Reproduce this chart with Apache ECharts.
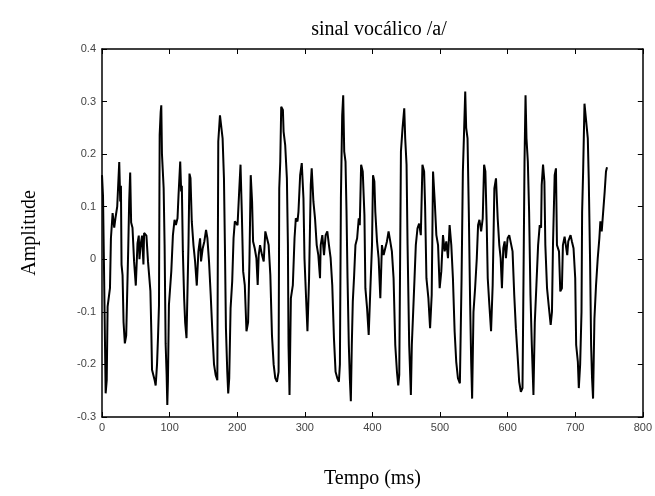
<!DOCTYPE html>
<html>
<head>
<meta charset="utf-8">
<script src="https://cdn.jsdelivr.net/npm/echarts@6/dist/echarts.min.js"></script>
<style>html,body{margin:0;padding:0;background:#fff}#c{width:655px;height:496px}</style>
</head>
<body>
<div id="c"></div>
<script>
var title = 'sinal vocálico /a/';
var xName = 'Tempo (ms)';
var yName = 'Amplitude';
var xTicks = [0, 100, 200, 300, 400, 500, 600, 700, 800];
var yTicks = [-0.3, -0.2, -0.1, 0, 0.1, 0.2, 0.3, 0.4];

// time (ms) of each sample
var timeMs = [
0,1.5,2.9,5.4,7,8.3,11.8,13.2,15.7,18.1,20.1,22.5,25.5,27,28,28.9,30.4,31.9,33.8,35.8,38.7,40.2,41.7,43.1,45.1,47.5,50,52.5,54.4,55.4,57.4,59.3,61.3,62.3,65.7,68.1,71.6,73,74,77.9,79.4,81.4,82.8,84.3,85.3,86.8,87.7,88.7,91.2,92.6,94.1,95.6,96.6,97.5,99,102.5,
104.9,107.3,109.3,111.7,113.2,115.7,117.1,118.1,119.6,121.5,123,125,126.4,127.9,129.4,130.9,132.8,135.3,137.7,140.2,142.6,145.1,146.5,149,151.4,153.9,155.9,158.3,160.8,163.2,165.7,168.1,170.6,172,174.5,176.9,178.4,180.4,181.8,183.3,185.3,186.7,188.2,190.2,192.6,194.6,196.5,199,200.5,202.9,204.9,206.8,208.8,211.2,
213.7,216.1,218.1,220,222,223.5,225.9,228.4,230.3,231.8,233.8,236.7,239.2,241.6,244.1,246.5,249,251.4,253.9,256.3,258.8,261.2,262.2,263.7,265.1,267.6,268.6,271,273.5,275,275.9,277.4,279.4,282.3,284.8,286.7,289.2,290.6,293.1,295.5,298,299.5,301.9,303.9,306.3,308.8,310.2,312.7,315.1,317.6,320,322.5,
323.5,325.9,328.4,330.8,333.3,335.7,338.2,340.6,343.1,345.5,348,350.4,351.9,353.4,355.3,356.8,358.3,360.2,361.7,363.2,365.1,366.6,368.1,369.5,371,373,374.9,377.4,379.8,381.3,383.3,385.7,388.2,389.6,392.1,394.5,397,399.4,400.9,402.9,404.3,406.8,409.2,411.7,414.1,416.6,419,421.5,423.9,426.4,428.8,431.3,
433.8,436.3,438.2,439.7,442.2,444.6,447.1,448.5,450.5,452,454.4,456.9,458.3,460.3,462.3,464.2,466.7,469.1,471.6,474,476.5,477.9,479.9,482.8,485.3,487.7,489.7,492.2,494.6,497.1,499.5,501.9,504.4,506.9,509.3,511.8,514.2,516.7,519.1,521.6,524,526.5,529.4,531.9,533.8,535.3,537.3,538.7,540.7,542.6,
544.6,546.1,547.5,549.5,551.9,554.4,556.3,558.3,560.8,563.2,565.2,567.1,569.1,570.6,573,575.5,577.9,580.4,582.8,585.3,587.7,589.7,591.6,593.6,595.6,597.5,600,602.4,604.9,607.3,609.8,612.2,614.7,617.1,619.6,622,623.5,625,626.5,627.9,629.9,631.8,633.8,635.8,638.2,640.2,642.6,645.1,647.5,
649.5,650.4,652.4,654.4,655.8,658.3,660.7,663.7,665.6,667.1,669.6,671.5,673,676,677.9,680.3,681.8,684.3,686.7,688.2,689.7,691.6,693.1,695.1,697.5,700,701.4,703.9,705.3,707.3,709.3,710.2,711.7,713.7,716.1,718.6,720,722,723.5,724.9,726.4,728.4,730.8,733.3,735.7,737.2,739.2,741.6,743.6,745.5,747
];
// amplitude of each sample
var amplitude = [
0.16,0.12,-0.01,-0.255,-0.23,-0.09,-0.055,0.04,0.088,0.06,0.08,0.1,0.185,0.11,0.14,-0.01,-0.03,-0.12,-0.16,-0.145,0.015,0.11,0.165,0.07,0.06,-0.005,-0.05,0.03,0.045,0,0.03,0.045,-0.01,0.05,0.045,-0.005,-0.06,-0.14,-0.21,-0.23,-0.24,-0.2,-0.15,-0.087,0.237,0.28,0.293,0.2,0.135,0.027,-0.16,-0.22,-0.277,-0.233,-0.087,-0.023,
0.046,0.075,0.065,0.078,0.122,0.186,0.129,0.14,0.015,-0.074,-0.12,-0.15,-0.15,0.027,0.163,0.154,0.072,0.027,-0.004,-0.05,0.015,0.04,-0.004,0.021,0.034,0.056,0.04,-0.004,-0.068,-0.137,-0.2,-0.22,-0.23,0.224,0.274,0.277,0.23,0.154,0.027,-0.13,-0.214,-0.255,-0.226,-0.093,-0.042,0.04,0.072,0.075,0.065,0.129,0.18,0.09,-0.023,-0.049,
-0.137,-0.12,-0.004,0.16,0.11,0.034,0.021,0.002,-0.049,0.008,0.027,0.008,-0.004,0.053,0.04,0.027,-0.03,-0.144,-0.2,-0.226,-0.233,-0.214,0.135,0.186,0.29,0.284,0.243,0.217,0.154,0.027,-0.163,-0.258,-0.074,-0.049,0.04,0.078,0.072,0.09,0.16,0.183,0.116,0.002,-0.074,-0.137,-0.036,0.141,0.173,0.11,0.078,0.027,0.008,-0.036,
0.027,0.046,0.008,0.046,0.053,0.027,0.002,-0.049,-0.15,-0.214,-0.226,-0.233,-0.2,0.116,0.274,0.312,0.205,0.186,0.09,-0.036,-0.163,-0.226,-0.27,-0.163,-0.08,-0.03,0.027,0.04,0.078,0.065,0.18,0.167,0.084,-0.055,-0.093,-0.144,-0.055,0.027,0.16,0.148,0.09,0.034,0.002,-0.074,0.027,0.008,0.021,0.034,0.053,0.034,0.015,-0.036,
-0.163,-0.214,-0.24,-0.22,0.205,0.25,0.287,0.23,0.18,0.027,-0.163,-0.258,-0.163,-0.1,-0.036,0.027,0.059,0.068,0.046,0.18,0.167,0.103,-0.036,-0.074,-0.131,-0.068,0.167,0.11,0.046,0.027,-0.055,-0.023,0.046,0.015,0.034,0.002,0.065,0.027,-0.036,-0.137,-0.195,-0.226,-0.236,-0.036,0.167,0.23,0.319,0.25,0.23,0.09,
-0.087,-0.195,-0.265,-0.1,-0.055,0.002,0.065,0.075,0.053,0.078,0.18,0.167,0.065,-0.036,-0.087,-0.137,-0.049,0.135,0.154,0.078,0.027,0.002,-0.055,0.021,0.034,0.002,0.04,0.046,0.046,0.015,-0.068,-0.131,-0.182,-0.233,-0.252,-0.245,-0.036,0.186,0.312,0.23,0.186,0.09,-0.068,-0.163,-0.258,-0.12,-0.049,0.027,0.065,
0.06,0.141,0.18,0.148,0.027,-0.055,-0.087,-0.125,-0.1,0.027,0.16,0.173,0.027,0.015,-0.061,-0.055,0.027,0.043,0.04,0.008,0.034,0.034,0.046,0.034,0.021,-0.036,-0.163,-0.195,-0.245,-0.2,-0.1,0.09,0.167,0.296,0.293,0.23,0.154,-0.004,-0.163,-0.226,-0.265,-0.113,-0.049,0.002,0.04,0.072,0.053,0.053,0.129,0.167,0.175
];

var seriesData = timeMs.map(function (t, i) { return [t, amplitude[i]]; });

var serif = '"Liberation Serif", "DejaVu Serif", serif';
var sans = '"Liberation Sans", Arial, sans-serif';

var chart = echarts.init(document.getElementById('c'), null, {renderer: 'canvas'});
var tickStyle = {show: true, inside: true, length: 5, lineStyle: {color: '#000', width: 1}};
var lineStyle = {show: true, onZero: false, lineStyle: {color: '#000', width: 1.5}};
chart.setOption({
  animation: false,
  backgroundColor: '#fff',
  title: {
    text: title, left: 374, top: 15, textAlign: 'center',
    textStyle: {fontFamily: serif, fontSize: 20, fontWeight: 'normal', color: '#000'}
  },
  grid: {left: 102, right: 10, top: 49, bottom: 79, containLabel: false},
  xAxis: [{
    type: 'value', min: xTicks[0], max: xTicks[xTicks.length - 1], interval: 100,
    name: xName, nameLocation: 'middle', nameGap: 52,
    nameTextStyle: {fontFamily: serif, fontSize: 20, color: '#000'},
    axisLine: lineStyle, axisTick: tickStyle, splitLine: {show: false},
    axisLabel: {fontFamily: sans, fontSize: 11, color: '#444', margin: 5}
  }, {
    type: 'value', position: 'top', min: xTicks[0], max: xTicks[xTicks.length - 1], interval: 100,
    axisLine: lineStyle, axisTick: tickStyle, splitLine: {show: false}, axisLabel: {show: false}
  }],
  yAxis: [{
    type: 'value', min: yTicks[0], max: yTicks[yTicks.length - 1], interval: 0.1,
    name: yName, nameLocation: 'middle', nameGap: 62, nameRotate: 90,
    nameTextStyle: {fontFamily: serif, fontSize: 20, color: '#000'},
    axisLine: lineStyle, axisTick: tickStyle, splitLine: {show: false},
    axisLabel: {fontFamily: sans, fontSize: 11, color: '#444', margin: 6,
      formatter: function (v) { var r = Math.round(v * 10) / 10; return r === 0 ? '0' : r.toFixed(1); }}
  }, {
    type: 'value', position: 'right', min: yTicks[0], max: yTicks[yTicks.length - 1], interval: 0.1,
    axisLine: lineStyle, axisTick: tickStyle, splitLine: {show: false}, axisLabel: {show: false}
  }],
  series: [{
    type: 'line', data: seriesData, showSymbol: false, symbol: 'none',
    lineStyle: {color: '#000', width: 2}, xAxisIndex: 0, yAxisIndex: 0
  }]
});
</script>
</body>
</html>
